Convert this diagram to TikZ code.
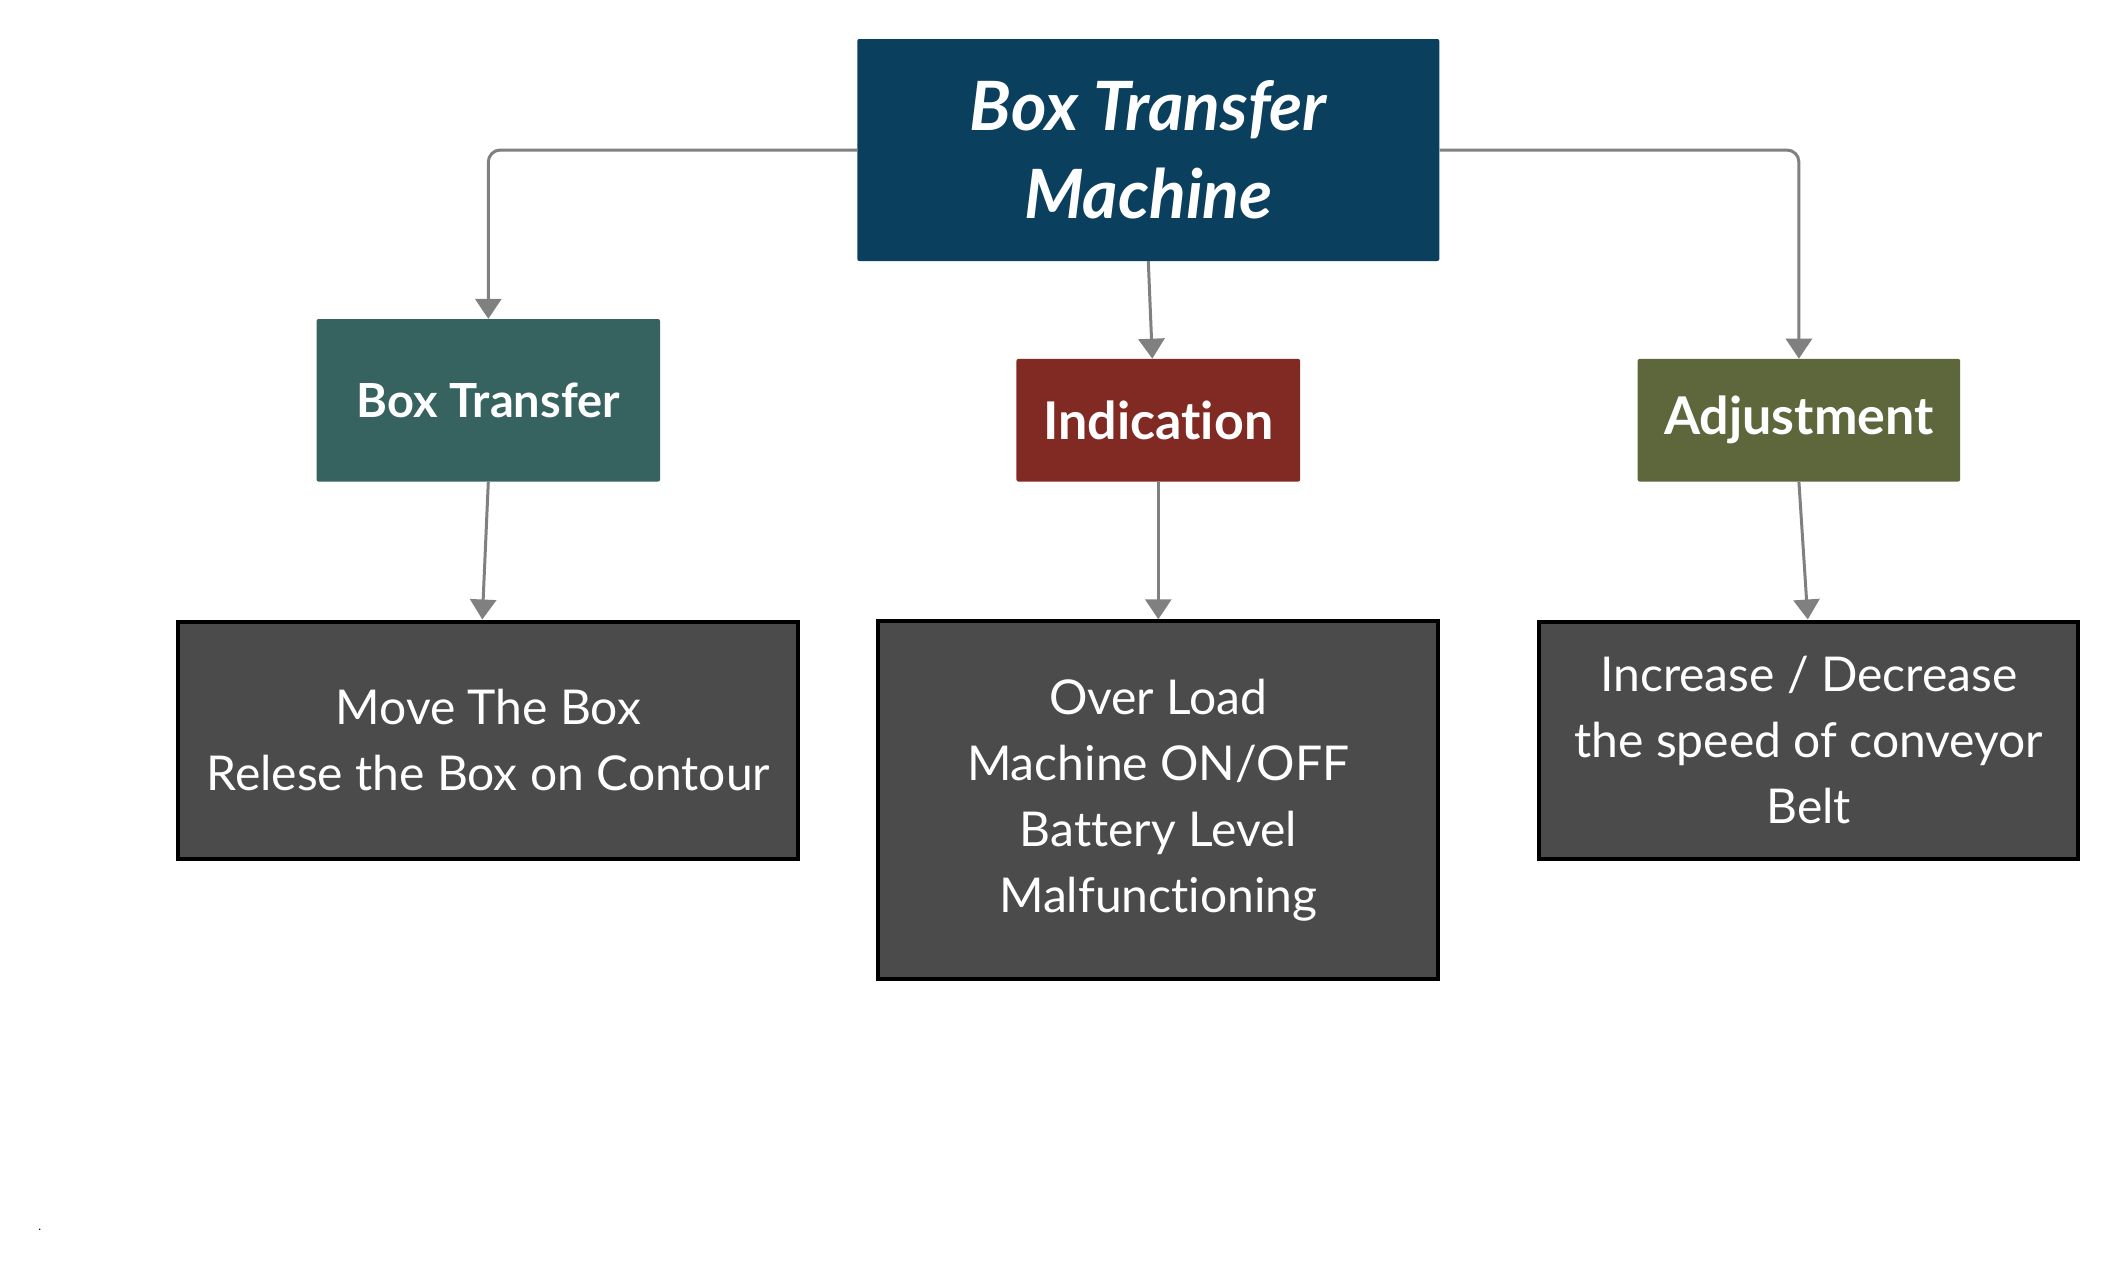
\documentclass[tikz,border=0pt]{standalone}
\usepackage{fontspec}
\setmainfont{Lato}[Ligatures={NoCommon}]
\usetikzlibrary{arrows.meta}
\definecolor{topc}{HTML}{0A3F5E}
\definecolor{btc}{HTML}{366360}
\definecolor{indc}{HTML}{812A24}
\definecolor{adjc}{HTML}{5E663C}
\definecolor{darkc}{HTML}{4B4B4B}
\definecolor{linec}{HTML}{808080}
\begin{document}
\begin{tikzpicture}[x=1pt,y=-1pt,
  boxbase/.style={rectangle,inner sep=0pt,align=center,text=white,rounded corners=2pt},
  topbox/.style={boxbase,fill=topc,font=\fontsize{68}{88}\selectfont\bfseries\itshape},
  midbox/.style={boxbase,font=\fontsize{52}{60}\selectfont\bfseries},
  leafbox/.style={boxbase,fill=darkc,draw=black,line width=4pt,rounded corners=0pt,font=\fontsize{48}{66}\selectfont},
  conn/.style={draw=linec,line width=3pt,-{Triangle[width=26pt,length=20pt]},rounded corners=12pt}
]
\useasboundingbox (0,0) rectangle (2119,1278);
\node[topbox,minimum width=582pt,minimum height=222pt] (top) at (1148.3,150) {Box Transfer\\Machine};
\node[midbox,fill=btc,minimum width=343.5pt,minimum height=162.5pt,font=\fontsize{47}{60}\selectfont\bfseries] (bt) at (488.3,400.3) {Box Transfer};
\node[midbox,fill=indc,minimum width=283.7pt,minimum height=122.6pt] (ind) at (1158.3,420.2) {Indication};
\node[midbox,fill=adjc,minimum width=322.5pt,minimum height=122.6pt] (adj) at (1798.9,420.2) {Adjustment};
\node[leafbox,minimum width=620pt,minimum height=237pt] (move) at (488.3,740) {Move The Box\\Relese the Box on Contour};
\node[leafbox,minimum width=560pt,minimum height=358pt] (over) at (1158.3,800.3) {Over Load\\Machine ON/OFF\\Battery Level\\Malfunctioning};
\node[leafbox,minimum width=539pt,minimum height=237pt] (inc) at (1808.8,740) {Increase / Decrease\\the speed of conveyor\\Belt};
\draw[conn] (top.west) -| (bt.north);
\draw[conn] (top.east) -| (adj.north);
\draw[conn,rounded corners=0pt] (top.south) -- ([xshift=-6pt]ind.north);
\draw[conn,rounded corners=0pt] (bt.south) -- ([xshift=-6pt]move.north-|bt.south);
\draw[conn,rounded corners=0pt] (ind.south) -- (over.north);
\draw[conn,rounded corners=0pt] (adj.south) -- ([xshift=-1pt]inc.north);
\node[inner sep=0pt,font=\fontsize{12}{12}\selectfont] (dot) at (39.8,1230) {.};
\end{tikzpicture}
\end{document}
